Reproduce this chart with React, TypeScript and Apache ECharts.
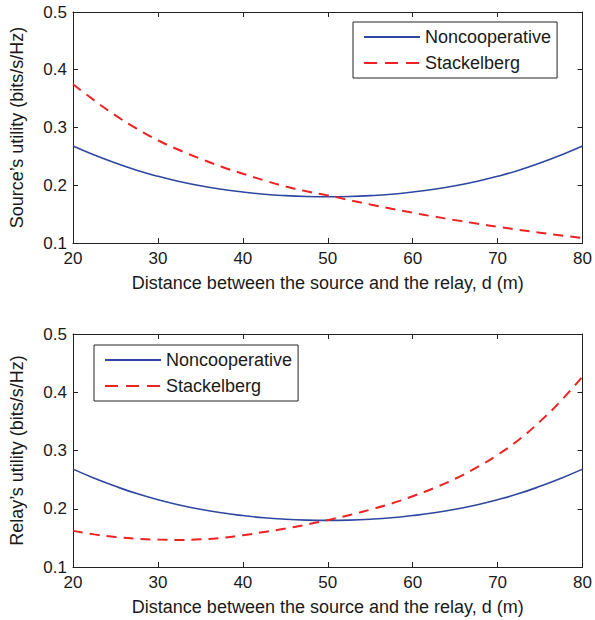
import React, { useEffect, useRef } from "react";
import * as echarts from "echarts";

const distances = [20, 22.5, 25, 27.5, 30, 32.5, 35, 37.5, 40, 42.5, 45, 47.5, 50, 52.5, 55, 57.5, 60, 62.5, 65, 67.5, 70, 72.5, 75, 77.5, 80];
const sourceNoncoop = [0.268, 0.2525, 0.2385, 0.226, 0.2155, 0.2065, 0.199, 0.193, 0.1883, 0.1845, 0.182, 0.1805, 0.180, 0.1805, 0.182, 0.1845, 0.1883, 0.193, 0.199, 0.2065, 0.2155, 0.226, 0.2385, 0.2525, 0.268];
const sourceStackelberg = [0.375, 0.347, 0.321, 0.298, 0.278, 0.261, 0.246, 0.232, 0.220, 0.2085, 0.198, 0.1895, 0.1825, 0.1745, 0.1668, 0.1594, 0.1524, 0.1458, 0.1396, 0.1337, 0.1281, 0.1228, 0.1178, 0.1131, 0.1087];
const relayNoncoop = [0.268, 0.2525, 0.2385, 0.226, 0.2155, 0.2065, 0.199, 0.193, 0.1883, 0.1845, 0.182, 0.1805, 0.180, 0.1805, 0.182, 0.1845, 0.1883, 0.193, 0.199, 0.2065, 0.2155, 0.226, 0.2385, 0.2525, 0.268];
const relayStackelberg = [0.162, 0.156, 0.1515, 0.1485, 0.147, 0.1465, 0.1475, 0.150, 0.1545, 0.160, 0.166, 0.1728, 0.1805, 0.189, 0.1985, 0.209, 0.2215, 0.2355, 0.2515, 0.2705, 0.2925, 0.3185, 0.350, 0.386, 0.427];
const xTitle = "Distance between the source and the relay, d (m)";
const yTitles = ["Source\u2019s utility (bits/s/Hz)", "Relay\u2019s utility (bits/s/Hz)"];

const FONT = "Liberation Sans, Arial, Helvetica, sans-serif";
const TXT = "#1a1a1a";
const BLUE = "#2e47a0";
const RED = "#ee2222";

export default function App() {
  const ref = useRef<HTMLDivElement>(null);
  useEffect(() => {
    if (!ref.current) return;
    const chart = echarts.init(ref.current, null, { renderer: "svg" });
    const pairs = (ys: number[]) => distances.map((d, i) => [d, ys[i]]);
    const grids = [
      { left: 66, top: 12, width: 519, height: 231 },
      { left: 66, top: 334, width: 519, height: 233 },
    ];
    const xAxes: any[] = [];
    const yAxes: any[] = [];
    grids.forEach((_, g) => {
      xAxes.push({
        type: "value", gridIndex: g, min: 20, max: 80, interval: 10, position: "bottom",
        name: xTitle, nameLocation: "middle", nameGap: 31,
        nameTextStyle: { fontFamily: FONT, fontSize: 18, color: TXT },
        axisLine: { show: true, onZero: false, lineStyle: { color: "#222", width: 1 } },
        axisTick: { show: true, inside: true, length: 5, lineStyle: { color: "#222" } },
        axisLabel: { fontFamily: FONT, fontSize: 17, color: TXT, margin: 7 },
        splitLine: { show: false },
      });
      xAxes.push({
        type: "value", gridIndex: g, min: 20, max: 80, interval: 10, position: "top",
        axisLine: { show: true, onZero: false, lineStyle: { color: "#222", width: 1 } },
        axisTick: { show: true, inside: true, length: 5, lineStyle: { color: "#222" } },
        axisLabel: { show: false }, splitLine: { show: false },
      });
      yAxes.push({
        type: "value", gridIndex: g, min: 0.1, max: 0.5, interval: 0.1, position: "left",
        name: yTitles[g], nameLocation: "middle", nameGap: 47,
        nameTextStyle: { fontFamily: FONT, fontSize: 18, color: TXT },
        axisLine: { show: true, onZero: false, lineStyle: { color: "#222", width: 1 } },
        axisTick: { show: true, inside: true, length: 5, lineStyle: { color: "#222" } },
        axisLabel: { fontFamily: FONT, fontSize: 17, color: TXT, margin: 6, formatter: (v: number) => v.toFixed(1) },
        splitLine: { show: false },
      });
      yAxes.push({
        type: "value", gridIndex: g, min: 0.1, max: 0.5, interval: 0.1, position: "right",
        axisLine: { show: true, onZero: false, lineStyle: { color: "#222", width: 1 } },
        axisTick: { show: true, inside: true, length: 5, lineStyle: { color: "#222" } },
        axisLabel: { show: false }, splitLine: { show: false },
      });
    });
    const mk = (name: string, data: number[], g: number, dashed: boolean) => ({
      name, type: "line", xAxisIndex: g * 2, yAxisIndex: g * 2, data: pairs(data),
      smooth: 0.5, showSymbol: false, symbol: "none",
      lineStyle: { color: dashed ? RED : BLUE, width: dashed ? 2 : 1.6, type: dashed ? [10, 7] : "solid" },
      itemStyle: { color: dashed ? RED : BLUE },
    });
    const legendBase = {
      orient: "vertical", itemWidth: 56, itemHeight: 10, itemGap: 8,
      backgroundColor: "#fff", borderColor: "#222", borderWidth: 1, borderRadius: 0,
      padding: [6, 6, 6, 10],
      textStyle: { fontFamily: FONT, fontSize: 18, color: TXT },
      itemStyle: { opacity: 0 },
      data: [
        { name: "Noncooperative" },
        { name: "Stackelberg", lineStyle: { type: [13, 8] } },
      ],
    };
    chart.setOption({
      animation: false,
      backgroundColor: "#fff",
      grid: grids.map((g) => ({ ...g, show: false })),
      xAxis: xAxes,
      yAxis: yAxes,
      legend: [
        { ...legendBase, left: 353, top: 22 },
        { ...legendBase, left: 94, top: 345 },
      ],
      series: [
        mk("Noncooperative", sourceNoncoop, 0, false),
        mk("Stackelberg", sourceStackelberg, 0, true),
        mk("Noncooperative", relayNoncoop, 1, false),
        mk("Stackelberg", relayStackelberg, 1, true),
      ],
    });
    return () => chart.dispose();
  }, []);
  return <div ref={ref} style={{ width: 595, height: 620, position: "absolute", left: 0, top: 0 }} />;
}
